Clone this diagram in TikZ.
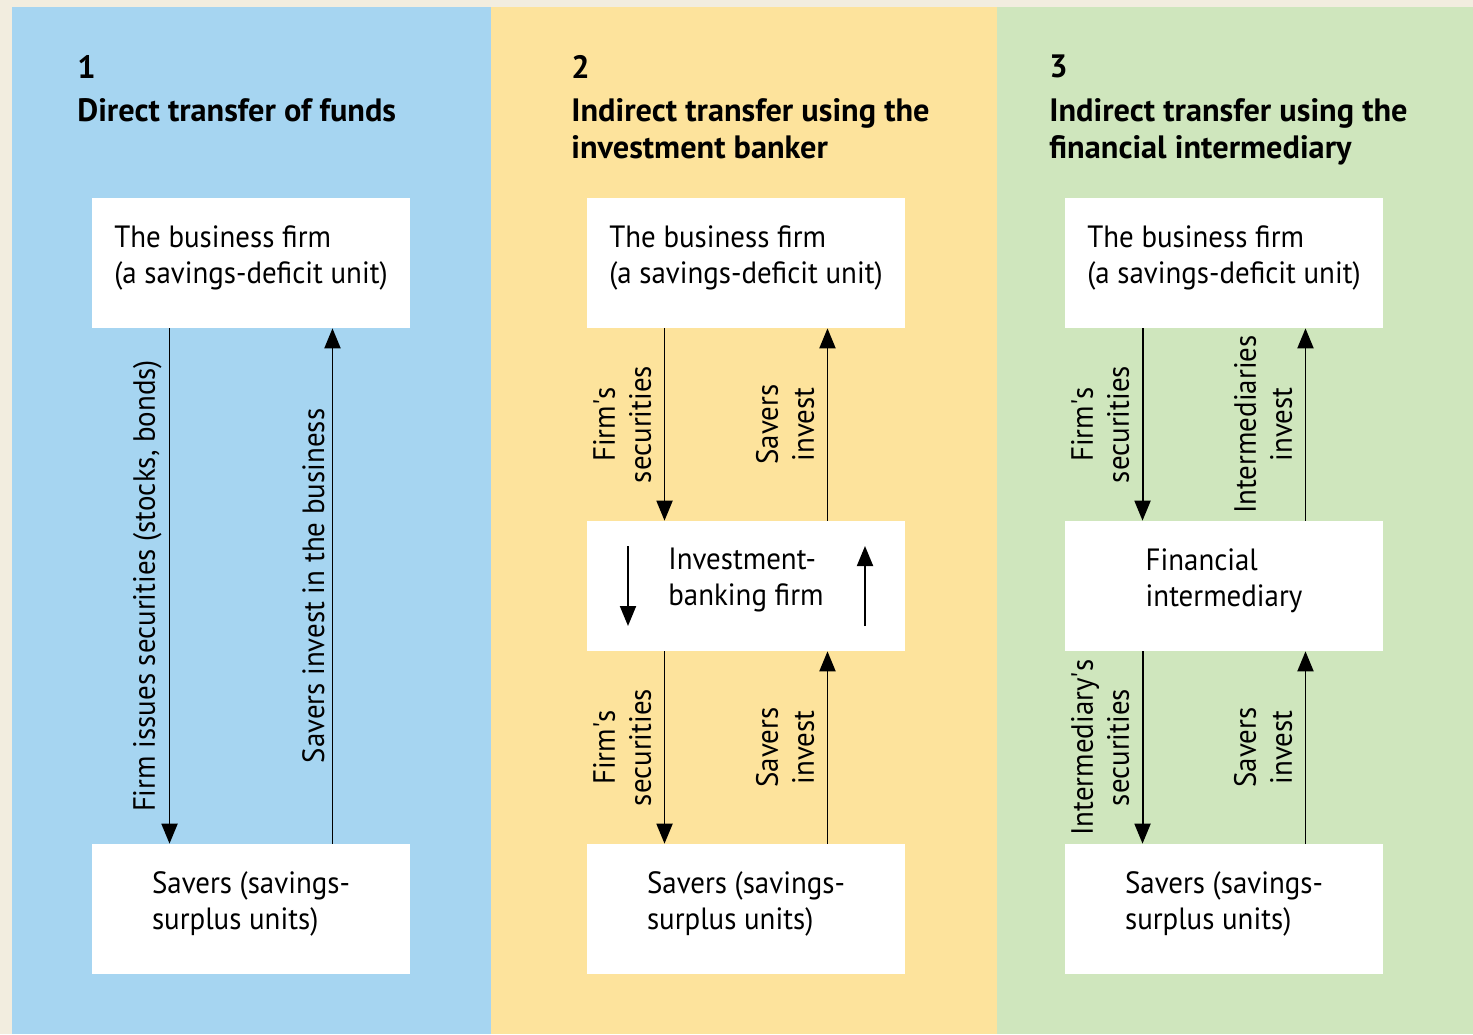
\documentclass[tikz,border=0pt]{standalone}
\usepackage{fontspec}
\setmainfont{PT Sans}[FakeStretch=0.94]
\newfontfamily\headfont{PT Sans}
\usepackage{tikz}
\usetikzlibrary{arrows.meta,positioning,calc}
\definecolor{fpcream}{RGB}{242,237,223}
\definecolor{fpblue}{RGB}{166,213,241}
\definecolor{fpyellow}{RGB}{253,227,156}
\definecolor{fpgreen}{RGB}{207,230,189}
\newcommand{\boxfont}{\fontsize{17.5}{20.5}\selectfont}
\newcommand{\titlefont}{\headfont\fontsize{18.4}{21}\selectfont\bfseries}
\tikzstyle{flow} = [line width=1.1pt, -{Triangle[length=4mm,width=3.2mm]}]
\tikzstyle{unit} = [rectangle, fill=white, minimum width=6.36cm, minimum height=2.6cm, align=left, text depth=10pt, font=\boxfont]
\tikzstyle{flowlabel} = [midway, rotate=90, anchor=south, align=center, inner sep=7pt, font=\boxfont]
\tikzstyle{paneltitle} = [anchor=north west, align=left, inner sep=0pt, font=\titlefont]

\begin{document}
\begin{tikzpicture}[x=0.02cm, y=-0.02cm]
    % Panels
    \fill[fpcream] (0,0) rectangle (1473,1034);
    \fill[fpblue] (12,7) rectangle (491,1034);
    \fill[fpyellow] (491,7) rectangle (997,1034);
    \fill[fpgreen] (997,7) rectangle (1473,1034);

    % 1: Direct transfer
    \node[paneltitle] (num1) at (77,55) {1};
    \node[paneltitle] (title1) at (77,98) {Direct transfer of funds};
    \node[unit] (firm1) at (251,263) {The business firm\\(a savings-deficit unit)};
    \node[unit] (savers1) at (251,909) {Savers (savings-\\surplus units)};
    \draw[flow] ([xshift=-1.63cm]firm1.south) -- ([xshift=-1.63cm]savers1.north) node[flowlabel, inner sep=4pt] {Firm issues securities (stocks, bonds)};
    \draw[flow] ([xshift=1.63cm]savers1.north) -- ([xshift=1.63cm]firm1.south) node[flowlabel, inner sep=4pt] {Savers invest in the business};

    % 2: Investment banker
    \node[paneltitle] (num2) at (571,55) {2};
    \node[paneltitle] (title2) at (571,98) {Indirect transfer using the\\investment banker};
    \node[unit] (firm2) at (746,263) {The business firm\\(a savings-deficit unit)};
    \node[unit] (bank) at (746,586) {Investment-\\banking firm};
    \node[unit] (savers2) at (746,909) {Savers (savings-\\surplus units)};
    \draw[flow] ([xshift=-1.63cm]firm2.south) -- ([xshift=-1.63cm]bank.north) node[flowlabel] {Firm\textquotesingle s\\securities};
    \draw[flow] ([xshift=1.63cm]bank.north) -- ([xshift=1.63cm]firm2.south) node[flowlabel] {Savers\\invest};
    \draw[flow] ([xshift=-1.63cm]bank.south) -- ([xshift=-1.63cm]savers2.north) node[flowlabel] {Firm\textquotesingle s\\securities};
    \draw[flow] ([xshift=1.63cm]savers2.north) -- ([xshift=1.63cm]bank.south) node[flowlabel] {Savers\\invest};
    \draw[flow] ([shift={(-118,-40)}]bank.center) -- ([shift={(-118,40)}]bank.center);
    \draw[flow] ([shift={(119,40)}]bank.center) -- ([shift={(119,-40)}]bank.center);

    % 3: Financial intermediary
    \node[paneltitle] (num3) at (1049,55) {3};
    \node[paneltitle] (title3) at (1049,98) {Indirect transfer using the\\financial intermediary};
    \node[unit] (firm3) at (1224,263) {The business firm\\(a savings-deficit unit)};
    \node[unit] (inter) at (1224,586) {Financial\\intermediary};
    \node[unit] (savers3) at (1224,909) {Savers (savings-\\surplus units)};
    \draw[flow] ([xshift=-1.63cm]firm3.south) -- ([xshift=-1.63cm]inter.north) node[flowlabel] {Firm\textquotesingle s\\securities};
    \draw[flow] ([xshift=1.63cm]inter.north) -- ([xshift=1.63cm]firm3.south) node[flowlabel] {Intermediaries\\invest};
    \draw[flow] ([xshift=-1.63cm]inter.south) -- ([xshift=-1.63cm]savers3.north) node[flowlabel] {Intermediary\textquotesingle s\\securities};
    \draw[flow] ([xshift=1.63cm]savers3.north) -- ([xshift=1.63cm]inter.south) node[flowlabel] {Savers\\invest};
\end{tikzpicture}
\end{document}
